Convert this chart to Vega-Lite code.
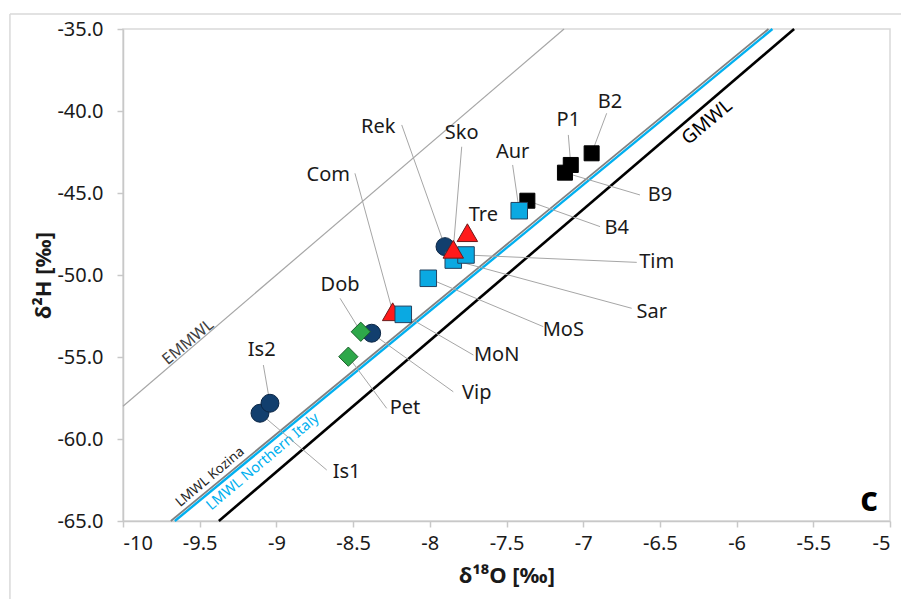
{
  "$schema": "https://vega.github.io/schema/vega-lite/v6.json",
  "width": 767,
  "height": 492,
  "autosize": {"type": "none"},
  "padding": {"left": 123, "top": 29, "right": 11, "bottom": 78},
  "background": "white",
  "config": {
    "locale": {"number": {"decimal": ".", "thousands": ",", "grouping": [3], "currency": ["$", ""], "minus": "-"}},
    "font": "Noto Sans",
    "view": {"stroke": "#d9d9d9", "strokeWidth": 1.5},
    "axis": {
      "grid": false,
      "domainColor": "#c8c8c8",
      "domainWidth": 1.5,
      "tickColor": "#c8c8c8",
      "tickWidth": 1.5,
      "tickSize": 6,
      "labelFont": "Noto Sans",
      "labelFontSize": 20,
      "labelColor": "#1a1a1a",
      "titleFont": "Noto Sans",
      "titleFontSize": 22,
      "titleFontWeight": "bold",
      "titleColor": "#1a1a1a"
    }
  },
  "resolve": {"scale": {"size": "independent", "color": "independent"}},
  "datasets": {
    "frame": [
      {"x": -10.737, "y": -34.085, "x2": -4.9, "y2": -34.085},
      {"x": -10.737, "y": -34.085, "x2": -10.737, "y2": -69.82}
    ],
    "mwl": [
      {"line": "EMMWL", "x": -10, "y": -58},
      {"line": "EMMWL", "x": -7.125, "y": -35},
      {"line": "LMWL Kozina", "x": -9.6883, "y": -65},
      {"line": "LMWL Kozina", "x": -5.7922, "y": -35},
      {"line": "LMWL Northern Italy", "x": -9.6623, "y": -65},
      {"line": "LMWL Northern Italy", "x": -5.7662, "y": -35},
      {"line": "GMWL", "x": -9.375, "y": -65},
      {"line": "GMWL", "x": -5.625, "y": -35}
    ],
    "mwlLabels": [
      {"line": "EMMWL", "x": -9.576, "y": -54.09},
      {"line": "LMWL Kozina", "x": -9.433, "y": -62.32},
      {"line": "LMWL Northern Italy", "x": -9.087, "y": -61.40},
      {"line": "GMWL", "x": -6.193, "y": -40.67}
    ],
    "samples": [
      {"name": "B4", "group": "black", "x": -7.364, "y": -45.47},
      {"name": "B9", "group": "black", "x": -7.119, "y": -43.76},
      {"name": "P1", "group": "black", "x": -7.081, "y": -43.29},
      {"name": "B2", "group": "black", "x": -6.945, "y": -42.58},
      {"name": "Aur", "group": "blue", "x": -7.417, "y": -46.08},
      {"name": "Is1", "group": "navy", "x": -9.107, "y": -58.43},
      {"name": "Is2", "group": "navy", "x": -9.042, "y": -57.82},
      {"name": "Vip", "group": "navy", "x": -8.379, "y": -53.55},
      {"name": "Dob", "group": "green", "x": -8.450, "y": -53.46},
      {"name": "Pet", "group": "green", "x": -8.531, "y": -54.98},
      {"name": "Rek", "group": "navy", "x": -7.901, "y": -48.27},
      {"name": "Com", "group": "red", "x": -8.242, "y": -52.24},
      {"name": "MoN", "group": "blue", "x": -8.173, "y": -52.40},
      {"name": "MoS", "group": "blue", "x": -8.010, "y": -50.20},
      {"name": "Sar", "group": "blue", "x": -7.847, "y": -49.09},
      {"name": "Tim", "group": "blue", "x": -7.764, "y": -48.78},
      {"name": "Sko", "group": "red", "x": -7.847, "y": -48.43},
      {"name": "Tre", "group": "red", "x": -7.755, "y": -47.42}
    ],
    "labels": [
      {"name": "Rek", "x": -7.901, "y": -48.27, "lx": -8.336, "ly": -40.96, "ax": -8.183, "ay": -40.85},
      {"name": "Sko", "x": -7.847, "y": -48.43, "lx": -7.792, "ly": -41.36, "ax": -7.792, "ay": -42.18},
      {"name": "Aur", "x": -7.417, "y": -46.08, "lx": -7.460, "ly": -42.48, "ax": -7.460, "ay": -43.29},
      {"name": "P1", "x": -7.081, "y": -43.29, "lx": -7.097, "ly": -40.55, "ax": -7.097, "ay": -41.46},
      {"name": "B2", "x": -6.945, "y": -42.58, "lx": -6.825, "ly": -39.43, "ax": -6.847, "ay": -40.14},
      {"name": "B9", "x": -7.119, "y": -43.76, "lx": -6.499, "ly": -45.12, "ax": -6.630, "ay": -45.12},
      {"name": "B4", "x": -7.364, "y": -45.47, "lx": -6.782, "ly": -47.15, "ax": -6.890, "ay": -47.05},
      {"name": "Tre", "x": -7.755, "y": -47.42, "lx": -7.651, "ly": -46.34},
      {"name": "Tim", "x": -7.764, "y": -48.78, "lx": -6.521, "ly": -49.23, "ax": -6.651, "ay": -49.23},
      {"name": "Sar", "x": -7.847, "y": -49.09, "lx": -6.553, "ly": -52.24, "ax": -6.684, "ay": -52.03},
      {"name": "MoS", "x": -8.010, "y": -50.20, "lx": -7.130, "ly": -53.35, "ax": -7.260, "ay": -53.15},
      {"name": "MoN", "x": -8.173, "y": -52.40, "lx": -7.564, "ly": -54.88, "ax": -7.716, "ay": -54.88},
      {"name": "Vip", "x": -8.379, "y": -53.55, "lx": -7.694, "ly": -57.21, "ax": -7.847, "ay": -57.12},
      {"name": "Pet", "x": -8.531, "y": -54.98, "lx": -8.162, "ly": -58.13, "ax": -8.281, "ay": -58.13},
      {"name": "Dob", "x": -8.450, "y": -53.46, "lx": -8.585, "ly": -50.61, "ax": -8.585, "ay": -51.42},
      {"name": "Com", "x": -8.242, "y": -52.24, "lx": -8.662, "ly": -43.90, "ax": -8.488, "ay": -43.80},
      {"name": "Is2", "x": -9.042, "y": -57.82, "lx": -9.096, "ly": -54.57, "ax": -9.085, "ay": -55.49},
      {"name": "Is1", "x": -9.107, "y": -58.43, "lx": -8.542, "ly": -61.99, "ax": -8.672, "ay": -61.89}
    ],
    "panel": [
      {"tag": "c", "x": -5.137, "y": -63.78}
    ]
  },
  "encoding": {
    "x": {
      "field": "x",
      "type": "quantitative",
      "title": "δ¹⁸O [‰]",
      "scale": {"domain": [-10, -5], "nice": false, "zero": false},
      "axis": {"values": [-10, -9.5, -9, -8.5, -8, -7.5, -7, -6.5, -6, -5.5, -5], "format": "~g", "labelPadding": 6, "titlePadding": 12}
    },
    "y": {
      "field": "y",
      "type": "quantitative",
      "title": "δ²H [‰]",
      "scale": {"domain": [-65, -35], "nice": false, "zero": false},
      "axis": {"values": [-65, -60, -55, -50, -45, -40, -35], "format": ".1f", "labelPadding": 14, "titlePadding": 1}
    }
  },
  "layer": [
    {
      "data": {"name": "frame"},
      "mark": {"type": "rule", "color": "#d9d9d9", "strokeWidth": 1.5},
      "encoding": {
        "x2": {"field": "x2"},
        "y2": {"field": "y2"}
      }
    },
    {
      "data": {"name": "mwl"},
      "transform": [{"filter": "datum.line == 'EMMWL'"}],
      "mark": {"type": "line", "color": "#a6a6a6", "strokeWidth": 1.2},
      "encoding": {"detail": {"field": "line"}}
    },
    {
      "data": {"name": "mwl"},
      "transform": [{"filter": "datum.line == 'LMWL Kozina'"}],
      "mark": {"type": "line", "color": "#808080", "strokeWidth": 1.8},
      "encoding": {"detail": {"field": "line"}}
    },
    {
      "data": {"name": "mwl"},
      "transform": [{"filter": "datum.line == 'LMWL Northern Italy'"}],
      "mark": {"type": "line", "color": "#00b0f0", "strokeWidth": 2.4},
      "encoding": {"detail": {"field": "line"}}
    },
    {
      "data": {"name": "mwl"},
      "transform": [{"filter": "datum.line == 'GMWL'"}],
      "mark": {"type": "line", "color": "#000000", "strokeWidth": 2.6},
      "encoding": {"detail": {"field": "line"}}
    },
    {
      "data": {"name": "mwlLabels"},
      "transform": [{"filter": "datum.line == 'EMMWL'"}],
      "mark": {"type": "text", "angle": 320, "align": "center", "baseline": "middle", "font": "Noto Sans", "fontSize": 16, "color": "#404040"},
      "encoding": {"text": {"field": "line"}}
    },
    {
      "data": {"name": "mwlLabels"},
      "transform": [{"filter": "datum.line == 'LMWL Kozina'"}],
      "mark": {"type": "text", "angle": 320, "align": "center", "baseline": "middle", "font": "Noto Sans", "fontSize": 13.5, "color": "#262626"},
      "encoding": {"text": {"field": "line"}}
    },
    {
      "data": {"name": "mwlLabels"},
      "transform": [{"filter": "datum.line == 'LMWL Northern Italy'"}],
      "mark": {"type": "text", "angle": 320, "align": "center", "baseline": "middle", "font": "Noto Sans", "fontSize": 14.5, "color": "#00b0f0"},
      "encoding": {"text": {"field": "line"}}
    },
    {
      "data": {"name": "mwlLabels"},
      "transform": [{"filter": "datum.line == 'GMWL'"}],
      "mark": {"type": "text", "angle": 320, "align": "center", "baseline": "middle", "font": "Noto Sans", "fontSize": 19, "color": "#000000"},
      "encoding": {"text": {"field": "line"}}
    },
    {
      "data": {"name": "labels"},
      "transform": [{"filter": "isValid(datum.ax)"}],
      "mark": {"type": "rule", "color": "#a6a6a6", "strokeWidth": 1},
      "encoding": {
        "x2": {"field": "ax"},
        "y2": {"field": "ay"}
      }
    },
    {
      "data": {"name": "samples"},
      "mark": {"type": "point", "filled": true, "opacity": 1, "strokeWidth": 1},
      "encoding": {
        "shape": {
          "field": "group",
          "type": "nominal",
          "scale": {"domain": ["black", "blue", "navy", "green", "red"], "range": ["square", "square", "circle", "diamond", "triangle-up"]},
          "legend": null
        },
        "fill": {
          "field": "group",
          "type": "nominal",
          "scale": {"domain": ["black", "blue", "navy", "green", "red"], "range": ["#000000", "#0aa9e2", "#123f6e", "#2ea84a", "#ff1a1a"]},
          "legend": null
        },
        "stroke": {
          "field": "group",
          "type": "nominal",
          "scale": {"domain": ["black", "blue", "navy", "green", "red"], "range": ["#000000", "#24425f", "#0b2645", "#1d5e2c", "#6b1a1a"]},
          "legend": null
        },
        "size": {
          "field": "group",
          "type": "nominal",
          "scale": {"domain": ["black", "blue", "navy", "green", "red"], "range": [225, 420, 460, 420, 500]},
          "legend": null
        }
      }
    },
    {
      "data": {"name": "labels"},
      "mark": {"type": "text", "align": "center", "baseline": "middle", "fontSize": 20, "color": "#1a1a1a", "font": "Noto Sans"},
      "encoding": {
        "x": {"field": "lx", "type": "quantitative", "title": "δ¹⁸O [‰]"},
        "y": {"field": "ly", "type": "quantitative", "title": "δ²H [‰]"},
        "text": {"field": "name"}
      }
    },
    {
      "data": {"name": "panel"},
      "mark": {"type": "text", "align": "center", "baseline": "middle", "fontSize": 34, "fontWeight": "bold", "color": "#000000", "font": "Noto Sans"},
      "encoding": {"text": {"field": "tag"}}
    }
  ]
}
